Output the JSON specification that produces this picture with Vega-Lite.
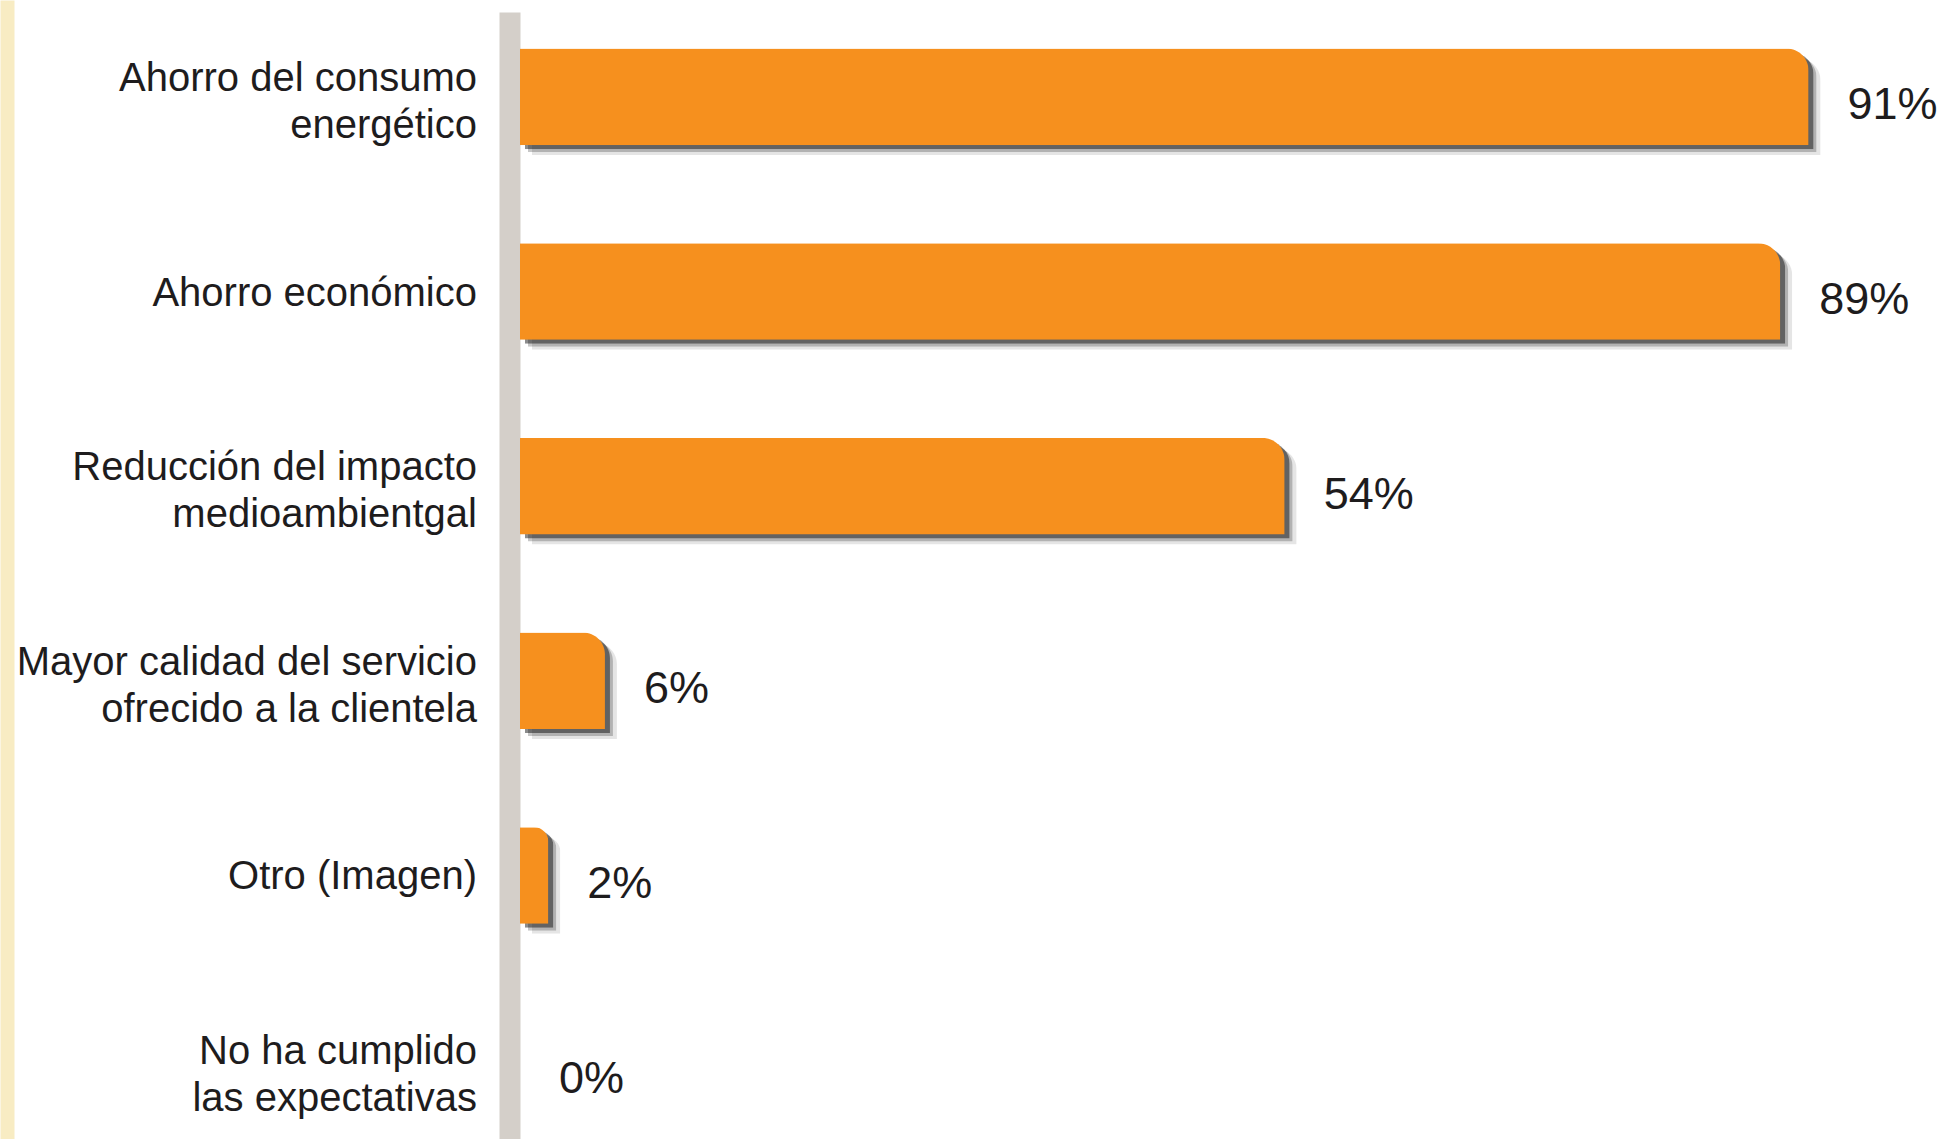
{
  "$schema": "https://vega.github.io/schema/vega-lite/v6.json",
  "width": 1416,
  "height": 1139,
  "autosize": {"type": "none"},
  "padding": {"left": 520, "top": 0, "right": 6, "bottom": 0},
  "background": "#ffffff",
  "config": {"view": {"stroke": null}, "font": "Liberation Sans"},
  "data": {
    "values": [
      {"motivo": "Ahorro del consumo\nenergético", "pct": 0.91},
      {"motivo": "Ahorro económico", "pct": 0.89},
      {"motivo": "Reducción del impacto\nmedioambientgal", "pct": 0.54},
      {"motivo": "Mayor calidad del servicio\nofrecido a la clientela", "pct": 0.06},
      {"motivo": "Otro (Imagen)", "pct": 0.02},
      {"motivo": "No ha cumplido\nlas expectativas", "pct": 0}
    ]
  },
  "resolve": {"scale": {"x": "independent", "y": "independent"}, "axis": {"x": "independent", "y": "independent"}},
  "layer": [
    {
      "mark": {"type": "bar", "color": "#000000", "opacity": 0.1, "cornerRadiusTopRight": 22, "yOffset": 10, "y2Offset": 10},
      "encoding": {
        "y": {"field": "motivo", "type": "nominal", "sort": null, "scale": {"range": [12, 1155], "paddingInner": 0.504, "paddingOuter": 0.188}, "axis": null},
        "x": {"field": "pct", "type": "quantitative", "scale": {"domain": [0, 1], "range": [12, 1428]}, "axis": null}
      }
    },
    {
      "mark": {"type": "bar", "color": "#000000", "opacity": 0.22, "cornerRadiusTopRight": 22, "yOffset": 7, "y2Offset": 7},
      "encoding": {
        "y": {"field": "motivo", "type": "nominal", "sort": null, "scale": {"range": [12, 1155], "paddingInner": 0.504, "paddingOuter": 0.188}, "axis": null},
        "x": {"field": "pct", "type": "quantitative", "scale": {"domain": [0, 1], "range": [8, 1424]}, "axis": null}
      }
    },
    {
      "mark": {"type": "bar", "color": "#000000", "opacity": 0.45, "cornerRadiusTopRight": 22, "yOffset": 4, "y2Offset": 4},
      "encoding": {
        "y": {"field": "motivo", "type": "nominal", "sort": null, "scale": {"range": [12, 1155], "paddingInner": 0.504, "paddingOuter": 0.188}, "axis": null},
        "x": {"field": "pct", "type": "quantitative", "scale": {"domain": [0, 1], "range": [5, 1421]}, "axis": null}
      }
    },
    {
      "mark": {"type": "bar", "color": "#f6901e", "cornerRadiusTopRight": 22},
      "encoding": {
        "y": {
          "field": "motivo", "type": "nominal", "sort": null,
          "scale": {"range": [12, 1155], "paddingInner": 0.504, "paddingOuter": 0.188},
          "axis": {
            "title": null, "orient": "left", "domainColor": "#d4cfc9", "domainWidth": 21, "offset": 10.5,
            "ticks": false, "tickSize": 0, "labelPadding": 33, "labelFontSize": 40, "labelColor": "#1e1c1d",
            "labelFont": "Liberation Sans", "labelLimit": 600, "labelLineHeight": 47,
            "labelOffset": {"condition": {"test": "indexof(datum.value, '\\n') >= 0", "value": -18}, "value": 2},
            "labelExpr": "split(datum.value, '\\n')", "grid": false
          }
        },
        "x": {"field": "pct", "type": "quantitative", "scale": {"domain": [0, 1]}, "axis": null}
      }
    },
    {
      "mark": {"type": "text", "align": "left", "baseline": "middle", "dx": 39, "dy": 8, "fontSize": 45, "color": "#1e1c1d", "font": "Liberation Sans"},
      "encoding": {
        "y": {
          "field": "motivo", "type": "nominal", "sort": null,
          "scale": {"range": [0, 1168], "paddingInner": 0.504, "paddingOuter": 0.252},
          "axis": {"title": null, "orient": "left", "domainColor": "#f8ecc3", "domainWidth": 14, "offset": 513, "ticks": false, "tickSize": 0, "labels": false, "grid": false}
        },
        "x": {"field": "pct", "type": "quantitative", "scale": {"domain": [0, 1]}, "axis": null},
        "text": {"field": "pct", "type": "quantitative", "format": ".0%"}
      }
    }
  ]
}
